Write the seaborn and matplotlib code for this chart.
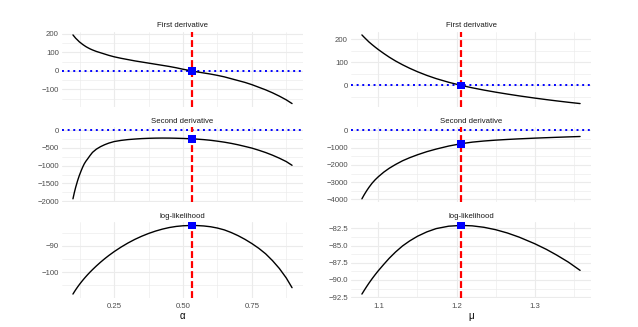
import matplotlib
matplotlib.use("Agg")
import matplotlib.pyplot as plt
from matplotlib.ticker import MultipleLocator, AutoMinorLocator, FuncFormatter
import numpy as np
import seaborn as sns

# alpha column
alpha = [0.100, 0.105, 0.110, 0.117, 0.123, 0.130, 0.135, 0.141, 0.147, 0.153, 0.162,
         0.171, 0.185, 0.200, 0.215, 0.230, 0.250, 0.275, 0.300, 0.325, 0.350, 0.375,
         0.400, 0.425, 0.450, 0.475, 0.500, 0.532, 0.550, 0.575, 0.600, 0.625, 0.650,
         0.675, 0.700, 0.725, 0.750, 0.775, 0.800, 0.825, 0.850, 0.875, 0.896]
alpha_d1 = [194, 185, 176, 166, 157, 149, 143, 137, 131, 126, 119,
            113, 105, 98, 91, 84, 76, 68, 61, 54, 48, 42,
            36, 30, 24, 17, 9, 0, -5, -11, -17, -24, -32,
            -42, -52, -62, -74, -88, -102, -118, -136, -156, -176]
alpha_d2 = [-1935, -1760, -1607, -1420, -1280, -1140, -1047, -950, -875, -813, -715,
            -626, -535, -465, -410, -365, -320, -288, -265, -250, -237, -229,
            -224, -222, -223, -227, -233, -243, -252, -266, -285, -310, -338,
            -372, -412, -458, -505, -565, -630, -705, -790, -885, -990]
alpha_ll = [-108.30, -107.45, -106.64, -105.58, -104.72, -103.77, -103.12, -102.37, -101.65,
            -100.95, -99.95, -99.00, -97.60, -96.19, -94.87, -93.64, -92.12, -90.40, -88.85,
            -87.47, -86.27, -85.22, -84.32, -83.57, -82.97, -82.55, -82.30, -82.17, -82.22,
            -82.37, -82.67, -83.17, -83.87, -84.87, -86.07, -87.47, -89.07, -90.87, -92.97,
            -95.57, -98.57, -102.17, -105.87]
alpha_hat = 0.532
alpha_hat_vals = [0, -243, -82.17]

# mu column
mu = [1.079, 1.082, 1.085, 1.088, 1.092, 1.096, 1.100, 1.107, 1.114, 1.122, 1.131,
      1.140, 1.150, 1.162, 1.174, 1.190, 1.206, 1.220, 1.235, 1.250, 1.265, 1.280,
      1.300, 1.315, 1.328, 1.343, 1.358]
mu_d1 = [219, 208.5, 198.5, 188.5, 177, 166, 155.5, 138.5, 122.5, 106, 89.5,
         74.5, 59.5, 43.5, 29.5, 13.6, 0, -10.3, -20.2, -29.2, -37.5, -45.3,
         -54.9, -61.6, -67.1, -73.1, -78.7]
mu_d2 = [-3961, -3720, -3500, -3300, -3060, -2860, -2686, -2420, -2196, -1980, -1765,
         -1590, -1420, -1240, -1090, -915, -780, -690, -625, -575, -535, -500,
         -460, -433, -411, -387, -365]
mu_ll = [-92.05, -91.50, -90.97, -90.46, -89.82, -89.22, -88.65, -87.72, -86.83, -85.93,
         -85.04, -84.32, -83.64, -83.00, -82.52, -82.17, -82.06, -82.12, -82.33, -82.68,
         -83.16, -83.76, -84.72, -85.55, -86.37, -87.40, -88.60]
mu_hat = 1.206
mu_hat_vals = [0, -780, -82.06]

strip_titles = ["First derivative", "Second derivative", "log-likelihood"]

sns.set_style("white")
plt.rcParams['font.family'] = ['Liberation Sans', 'DejaVu Sans']

W, H = 638, 327
fig = plt.figure(figsize=(W / 100, H / 100), dpi=100)

row_tops = [31.5, 126.75, 222]
row_h = 75.5
cols = [(62, 241), (351, 240)]

grid_c = "#EBEBEB"
tick_c = "#4D4D4D"


def fmt(decimals):
    def f(v, pos):
        s = f"{v:.{decimals}f}"
        return s.replace("-", "\u2212")
    return FuncFormatter(f)


columns = [
    (alpha, [alpha_d1, alpha_d2, alpha_ll], alpha_hat, alpha_hat_vals, "\u03b1",
     [100, 500, 10], [0, 0, 0], 0.25, 2),
    (mu, [mu_d1, mu_d2, mu_ll], mu_hat, mu_hat_vals, "\u03bc",
     [100, 1000, 2.5], [0, 0, 1], 0.1, 1),
]

for (x0, w), (xs, ys_list, xhat, hat_vals, xlab, ysteps, ydec, xstep, xdec) in zip(cols, columns):
    xs = np.asarray(xs)
    xr = xs.max() - xs.min()
    for i, ys in enumerate(ys_list):
        top = row_tops[i]
        ax = fig.add_axes([x0 / W, 1 - (top + row_h) / H, w / W, row_h / H])
        ys = np.asarray(ys, dtype=float)
        lo, hi = ys.min(), ys.max()
        if i < 2:
            lo, hi = min(lo, 0), max(hi, 0)
        yr = hi - lo
        ax.set_xlim(xs.min() - 0.05 * xr, xs.max() + 0.05 * xr)
        ax.set_ylim(lo - 0.05 * yr, hi + 0.05 * yr)

        ax.xaxis.set_major_locator(MultipleLocator(xstep))
        ax.xaxis.set_minor_locator(AutoMinorLocator(2))
        ax.yaxis.set_major_locator(MultipleLocator(ysteps[i]))
        ax.yaxis.set_minor_locator(AutoMinorLocator(2))
        ax.grid(True, which="major", color=grid_c, lw=0.8, zorder=0)
        ax.grid(True, which="minor", color=grid_c, lw=0.45, zorder=0)
        ax.set_axisbelow(True)
        for s in ax.spines.values():
            s.set_visible(False)
        ax.tick_params(which="both", length=0, labelsize=5.6, labelcolor=tick_c, pad=2.2)
        ax.xaxis.set_major_formatter(fmt(xdec))
        ax.yaxis.set_major_formatter(fmt(ydec[i]))
        if i < 2:
            ax.tick_params(axis="x", labelbottom=False)
            ax.axhline(0, color="#0000FF", lw=1.4, linestyle=(0, (1.0, 1.9)), zorder=2)
        else:
            ax.tick_params(axis="x", pad=4)
            ax.set_xlabel(xlab, fontsize=7, color="black", labelpad=0.5)

        sns.lineplot(x=xs, y=ys, ax=ax, color="black", lw=1.0, zorder=3)
        ax.axvline(xhat, color="#FF0000", lw=1.6, linestyle=(0, (3.1, 1.4)), zorder=4)
        sns.scatterplot(x=[xhat], y=[hat_vals[i]], ax=ax, marker="s", s=30,
                        color="#0000FF", edgecolor="none", zorder=5)
        ax.set_title(strip_titles[i], fontsize=5.6, color="#1A1A1A", pad=3)
        ax.set_ylabel("")

fig.savefig("out.png", dpi=100)
